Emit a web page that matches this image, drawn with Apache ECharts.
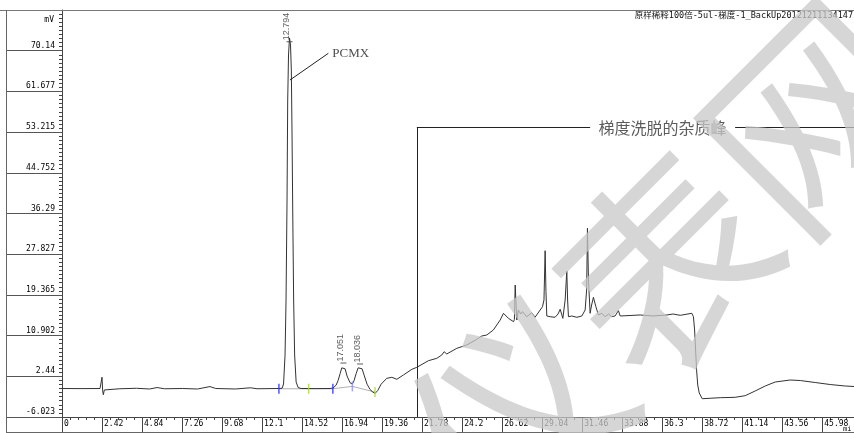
<!DOCTYPE html>
<html>
<head>
<meta charset="utf-8">
<script src="https://cdn.jsdelivr.net/npm/echarts@6/dist/echarts.min.js"></script>
<style>
  html, body { margin: 0; padding: 0; background: #fff; }
  #chart { width: 854px; height: 433px; }
</style>
</head>
<body>
<div id="chart"></div>
<script>
// retention time (min) and detector signal (mV)
const times = [0, 1.09, 2.30, 2.38, 2.42, 2.46, 2.50, 2.56, 2.65, 3.50, 4.50, 5.30, 5.75, 6.20, 7.30, 8.20, 8.95, 9.30, 10.50, 11.40, 11.80, 13.10,
  13.31, 13.40, 13.49, 13.55, 13.61, 13.65, 13.70, 13.76, 13.82, 13.87, 13.91, 13.96, 14.01, 14.07, 14.16, 14.28, 14.46,
  15.31, 16.21, 16.39, 16.58, 16.70, 16.82, 16.92, 17.02, 17.12, 17.24, 17.42, 17.56, 17.66, 17.79, 17.91, 18.03, 18.15, 18.27, 18.45, 18.63, 18.80, 18.94,
  19.10, 19.30, 19.64, 19.95, 20.25, 20.65, 21.16, 21.46, 22.16, 22.67, 22.97, 23.11, 23.27, 23.88, 24.48, 25.09, 25.39, 25.69, 26.09, 26.50, 26.70,
  27.00, 27.31, 27.36, 27.41, 27.45, 27.51, 27.60, 27.74, 27.85, 28.11, 28.41, 28.61, 28.92, 29.06, 29.15, 29.22, 29.27, 29.32, 29.52, 29.82,
  30.00, 30.13, 30.29, 30.43, 30.53, 30.58, 30.63, 30.83, 31.14, 31.44, 31.64, 31.73, 31.78, 31.84, 31.94, 32.03, 32.14, 32.29, 32.44, 32.65,
  32.85, 33.05, 33.25, 33.45, 33.65, 33.76, 34.97, 35.75, 36.58, 36.96, 37.39, 38.09, 38.19, 38.26, 38.32, 38.38, 38.45, 38.54, 38.72,
  39.20, 39.81, 40.71, 41.32, 41.92, 42.53, 43.13, 44.04, 44.65, 45.55, 46.46, 47.37, 47.90];
const signal = [-0.10, -0.12, -0.10, 0.10, 2.25, -0.60, -1.39, -0.40, -0.05, -0.15, -0.05, -0.20, 0.10, -0.15, -0.10, -0.20, 0.30, -0.10, -0.20, 0.05, -0.15, -0.10,
  -0.05, 0.84, 6.87, 18.30, 39.09, 59.68, 69.25, 72.80, 71.32, 66.13, 53.65, 34.93, 18.30, 6.87, 1.25, 0.11, -0.10,
  -0.12, -0.10, 0.00, 0.60, 1.60, 3.00, 4.20, 4.60, 4.00, 2.50, 1.10, 0.84, 1.50, 3.00, 4.20, 4.60, 4.00, 2.70, 0.80, -0.30, -0.85, -1.10,
  -0.50, 0.80, 2.02, 2.23, 1.82, 2.71, 3.89, 4.31, 5.68, 6.18, 6.87, 7.55, 7.08, 8.26, 8.95, 10.13, 10.82, 11.03, 12.07, 14.14, 15.54,
  14.49, 13.79, 14.24, 21.42, 18.30, 14.14, 16.23, 15.39, 15.88, 14.83, 15.67, 14.71, 16.23, 16.91, 18.30, 28.55, 20.07, 14.98, 14.83, 14.71,
  15.39, 16.37, 14.49, 18.30, 24.33, 18.30, 14.83, 14.98, 14.71, 14.98, 16.23, 20.40, 33.21, 22.50, 15.54, 17.26, 18.86, 16.91, 15.19, 15.54,
  14.83, 15.39, 14.83, 14.98, 16.09, 14.98, 15.19, 14.98, 15.19, 15.39, 15.12, 15.54, 14.83, 12.07, 7.91, 3.75, 0.63, -1.03, -2.22,
  -2.13, -2.01, -1.93, -1.59, -0.62, 0.42, 1.25, 1.67, 1.56, 1.15, 0.73, 0.42, 0.32];

// integration baseline and peak start/end marks
const baseTimes = [13.12, 14.92, 16.38, 17.56, 18.93];
const baseValues = [-0.15, -0.15, -0.15, 0.35, -0.85];
const baseColors = ['#2b2bff', '#a8d830', '#2b2bff', '#8c8cff', '#a8d830'];

// peak apex labels
const peakTimes = [13.76, 17.02, 18.03];
const peakValues = [72.0, 5.2, 5.0];
const peakNames = ['12.794', '17.051', '18.036'];

// axis tick labels
const xLabels = ['0', '2.42', '4.84', '7.26', '9.68', '12.1', '14.52', '16.94', '19.36', '21.78', '24.2',
  '26.62', '29.04', '31.46', '33.88', '36.3', '38.72', '41.14', '43.56', '45.98'];
const yLabels = ['-6.023', '2.44', '10.902', '19.365', '27.827', '36.29', '44.752', '53.215', '61.677', '70.14', ''];

// annotations
const pcmxLine = [[13.79, 64.05], [16.11, 69.6]];
const pcmxText = [16.35, 69.6];
const gradientLines = [
  [[21.46, -6.023], [21.46, 54.13]],
  [[21.46, 54.13], [31.94, 54.13]],
  [[40.71, 54.13], [47.9, 54.13]]
];
const gradientText = [36.32, 54.13];

const X_STEP = 2.42, X_MAX = 47.9;
const Y_MIN = -6.023, Y_STEP = 8.4625;
// y axis is drawn from 0, so values are moved up by -Y_MIN
const sy = v => v - Y_MIN;

const chart = echarts.init(document.getElementById('chart'));
const mono = 'DejaVu Sans Mono';

chart.setOption({
  animation: false,
  title: {
    text: '原样稀释100倍-5ul-梯度-1_BackUp20121211134147',
    right: 1, top: 12, padding: 0,
    textStyle: { fontSize: 8.5, fontWeight: 'normal', color: '#111', fontFamily: mono + ', Noto Sans CJK SC' }
  },
  grid: { left: 62, right: 0, top: 10, bottom: 16, outerBoundsMode: 'none' },
  xAxis: {
    type: 'value', min: 0, max: X_MAX, interval: X_STEP,
    name: 'mi', nameLocation: 'end', nameGap: -11, nameMoveOverlap: false,
    nameTextStyle: { fontSize: 7, color: '#000', fontFamily: mono, verticalAlign: 'top', padding: [9, 0, 0, 0] },
    axisLine: { onZero: false, lineStyle: { color: '#444', width: 1 } },
    axisTick: { length: 15, lineStyle: { color: '#444' } },
    minorTick: { show: true, splitNumber: 5, length: 3, lineStyle: { color: '#444' } },
    splitLine: { show: false },
    axisLabel: {
      align: 'left', margin: 3, padding: [0, 0, 0, 2], showMaxLabel: false,
      fontSize: 8, fontFamily: mono, color: '#000',
      formatter: v => xLabels[Math.round(v / X_STEP)] || ''
    }
  },
  yAxis: {
    type: 'value', min: 0, max: Y_STEP * 10, interval: Y_STEP,
    name: 'mV', nameLocation: 'end', nameGap: -14,
    nameTextStyle: { fontSize: 8, color: '#000', fontFamily: mono, align: 'right', padding: [0, 8, 0, 0] },
    axisLine: { show: true, lineStyle: { color: '#444', width: 1 } },
    axisTick: { length: 56, lineStyle: { color: '#555' } },
    minorTick: { show: true, splitNumber: 10, length: 3, lineStyle: { color: '#444' } },
    splitLine: { show: false },
    axisLabel: {
      margin: 7, verticalAlign: 'bottom', padding: [0, 0, 1, 0],
      fontSize: 8, fontFamily: mono, color: '#000',
      formatter: v => yLabels[Math.round(v / Y_STEP)] || ''
    }
  },
  graphic: [
    { type: 'line', shape: { x1: 0, y1: 10.5, x2: 854, y2: 10.5 }, style: { stroke: '#777', lineWidth: 1 }, z: 1 },
    { type: 'line', shape: { x1: 6.5, y1: 10, x2: 6.5, y2: 433 }, style: { stroke: '#666', lineWidth: 1 }, z: 1 },
    { type: 'line', shape: { x1: 6, y1: 432.5, x2: 854, y2: 432.5 }, style: { stroke: '#666', lineWidth: 1 }, z: 1 },
    {
      type: 'text', z: 100, x: 665, y: 265, rotation: Math.PI / 4, silent: true,
      style: { text: '仪表网', fontSize: 210, fontFamily: 'Noto Sans CJK SC', fill: 'rgba(200,200,200,0.75)', align: 'center', verticalAlign: 'middle' }
    }
  ],
  series: [
    {
      name: 'baseline', type: 'line', showSymbol: false, silent: true,
      data: baseTimes.map((t, i) => [t, sy(baseValues[i])]),
      lineStyle: { color: '#b0b0b0', width: 1 }, z: 2
    },
    {
      name: 'signal', type: 'line', showSymbol: false, silent: true,
      data: times.map((t, i) => [t, sy(signal[i])]),
      lineStyle: { color: '#333', width: 1 }, z: 3,
      markLine: {
        silent: true, symbol: ['none', 'none'], label: { show: false },
        lineStyle: { color: '#222', width: 1, type: 'solid' },
        data: [pcmxLine].concat(gradientLines).map(seg => [
          { coord: [seg[0][0], sy(seg[0][1])] },
          { coord: [seg[1][0], sy(seg[1][1])] }
        ])
      }
    },
    {
      name: 'marks', type: 'scatter', silent: true, symbol: 'rect', symbolSize: [1.5, 10], z: 4,
      data: baseTimes.map((t, i) => ({ value: [t, sy(baseValues[i])], itemStyle: { color: baseColors[i] } }))
    },
    {
      name: 'peaks', type: 'scatter', silent: true, symbol: 'rect', symbolSize: [6, 1], z: 4,
      itemStyle: { color: '#333' },
      data: peakTimes.map((t, i) => ({ value: [t, sy(peakValues[i])], name: peakNames[i] })),
      label: {
        show: true, position: [0, -1], rotate: 90, align: 'left', verticalAlign: 'middle',
        formatter: p => p.name, fontSize: 9, fontFamily: 'Liberation Sans', color: '#333'
      }
    },
    {
      name: 'notes', type: 'scatter', silent: true, symbolSize: 0, z: 5,
      data: [
        {
          value: [pcmxText[0], sy(pcmxText[1])],
          label: { show: true, position: 'right', distance: 0, formatter: 'PCMX', fontSize: 13, fontFamily: 'Liberation Serif', color: '#222' }
        },
        {
          value: [gradientText[0], sy(gradientText[1])],
          label: { show: true, position: 'inside', formatter: '梯度洗脱的杂质峰', fontSize: 16, fontFamily: 'Noto Sans CJK SC', color: '#333' }
        }
      ]
    }
  ]
});
</script>
</body>
</html>
